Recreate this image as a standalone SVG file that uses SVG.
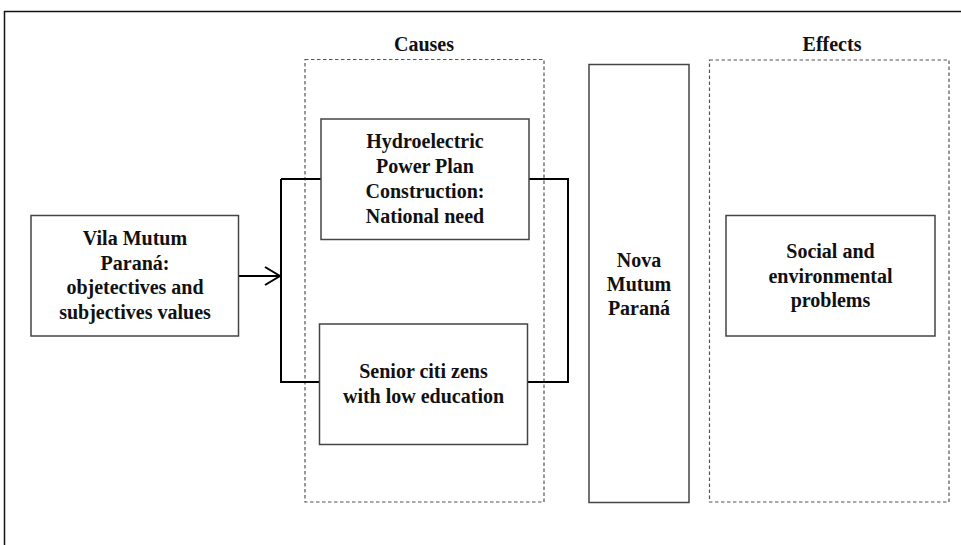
<svg xmlns="http://www.w3.org/2000/svg" width="961" height="545" viewBox="0 0 961 545">
<style>
.t{font-family:"Liberation Serif","Times New Roman",serif;font-weight:bold;font-size:20px;fill:#111;text-anchor:middle}
.box{fill:#fff;stroke:#444;stroke-width:1.5}
.dash{fill:none;stroke:#555;stroke-width:1.2;stroke-dasharray:3.5,2.5}
.con{fill:none;stroke:#000;stroke-width:2}
</style>
<rect width="961" height="545" fill="#fff"/>
<path d="M4.5,545 V11.5 H961" fill="none" stroke="#111" stroke-width="1.5"/>
<g id="causes-group">
<rect class="dash" x="305" y="59.5" width="239" height="442.5"/>
<text class="t" x="424" y="51">Causes</text>
</g>
<g id="effects-group">
<rect class="dash" x="709.5" y="60" width="239.5" height="442"/>
<text class="t" x="832" y="51">Effects</text>
</g>
<g id="connectors">
<path class="con" d="M281,179 H321 M281,179 V382 H319"/>
<path class="con" d="M529,179 H568 V382 H528"/>
<path class="con" d="M238.5,276 H280 M265,267 L280,276 L265,285" stroke-width="1.8"/>
</g>
<g id="vila">
<rect class="box" x="31" y="215.5" width="207.5" height="120.5"/>
<text class="t" x="135" y="245">Vila Mutum</text>
<text class="t" x="135" y="269.5">Paraná:</text>
<text class="t" x="135" y="294">objetectives and</text>
<text class="t" x="135" y="318.5">subjectives values</text>
</g>
<g id="hydro">
<rect class="box" x="321" y="119" width="208" height="120.5"/>
<text class="t" x="425" y="148">Hydroelectric</text>
<text class="t" x="425" y="172.5">Power Plan</text>
<text class="t" x="425" y="197.5">Construction:</text>
<text class="t" x="425" y="222.5">National need</text>
</g>
<g id="senior">
<rect class="box" x="319.5" y="324" width="208" height="120.5"/>
<text class="t" x="423.5" y="378">Senior citi zens</text>
<text class="t" x="423.5" y="402.5">with low education</text>
</g>
<g id="nova">
<rect class="box" x="589" y="64.5" width="100" height="438"/>
<text class="t" x="639" y="266.5">Nova</text>
<text class="t" x="639" y="291">Mutum</text>
<text class="t" x="639" y="315">Paraná</text>
</g>
<g id="social">
<rect class="box" x="726" y="215.5" width="209" height="120.5"/>
<text class="t" x="830.5" y="257.5">Social and</text>
<text class="t" x="830.5" y="282.5">environmental</text>
<text class="t" x="830.5" y="307">problems</text>
</g>
</svg>
